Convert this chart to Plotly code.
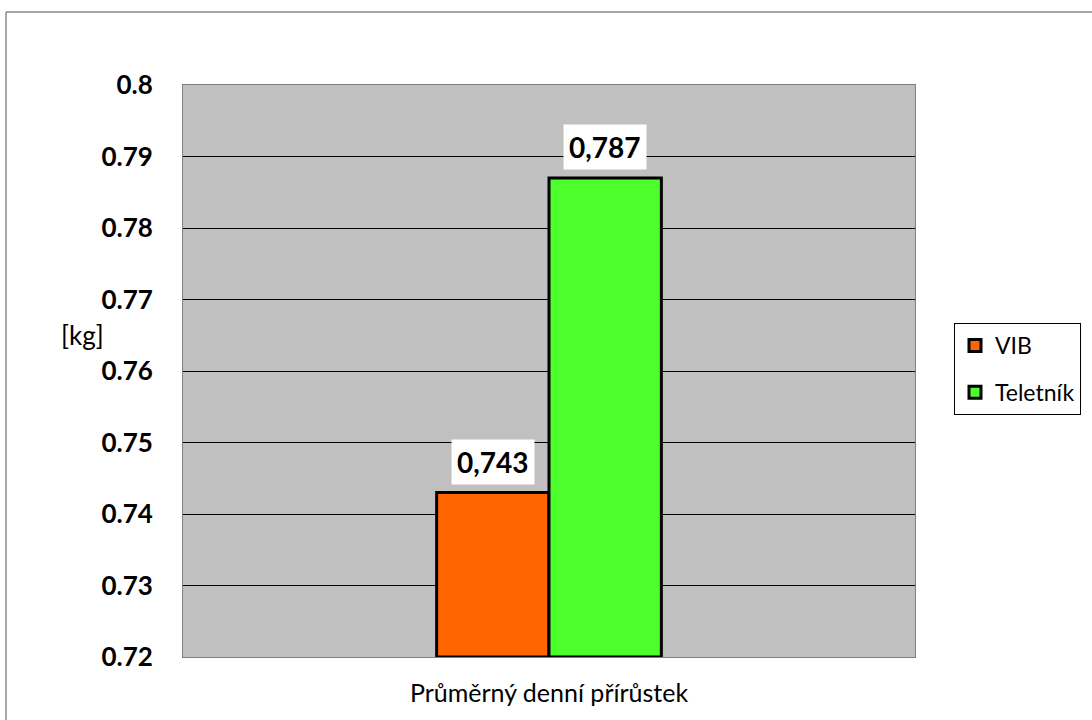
import plotly.graph_objects as go

categories = ["Průměrný denní přírůstek"]
series_names = ["VIB", "Teletník"]
values_vib = [0.743]
values_tel = [0.787]
label_vib = ["0,743"]
label_tel = ["0,787"]
colors = ["#FF6600", "#4CFF2C"]
y_ticks = [0.72, 0.73, 0.74, 0.75, 0.76, 0.77, 0.78, 0.79, 0.8]
y_ticktext = ["0.72", "0.73", "0.74", "0.75", "0.76", "0.77", "0.78", "0.79", "0.8"]

FONT = "Lato"
W, H = 1092, 720
L, R, T, B = 183, 177, 85, 63
pw, ph = W - L - R, H - T - B

fig = go.Figure()
for name, vals, col in [(series_names[0], values_vib, colors[0]),
                        (series_names[1], values_tel, colors[1])]:
    fig.add_trace(go.Bar(
        x=categories, y=[v - 0.72 for v in vals], base=0.72, name=name,
        legendgroup=name,
        marker=dict(color=col, line=dict(color="black", width=3)),
    ))

annotations = []
for vals, labs, shift in [(values_vib, label_vib, -56), (values_tel, label_tel, 56)]:
    for c, v, t in zip(categories, vals, labs):
        annotations.append(dict(
            x=c, y=v, xref="x", yref="y", text="<b>%s</b>" % t, showarrow=False,
            xshift=shift, yshift=8, yanchor="bottom", bgcolor="white",
            font=dict(family=FONT, size=28, color="black"), borderpad=5,
        ))

# y-axis title
annotations.append(dict(
    x=(59 - L) / pw, y=(H - B - 335) / ph, xref="paper", yref="paper",
    text="[kg]", showarrow=False, font=dict(family=FONT, size=26, color="black"),
))

shapes = [
    dict(type="line", xref="paper", yref="paper",
         x0=(6 - L) / pw, x1=(1110 - L) / pw, y0=(H - B - 12) / ph, y1=(H - B - 12) / ph,
         line=dict(color="#8a8a8a", width=1.5)),
    dict(type="line", xref="paper", yref="paper",
         x0=(6 - L) / pw, x1=(6 - L) / pw, y0=(H - B - 12) / ph, y1=(H - B - 740) / ph,
         line=dict(color="#8a8a8a", width=1.5)),
]

fig.update_layout(
    width=W, height=H,
    margin=dict(l=L, r=R, t=T, b=B, autoexpand=False),
    paper_bgcolor="white", plot_bgcolor="#C0C0C0",
    barmode="group", bargap=0.693, bargroupgap=0,
    font=dict(family=FONT, color="black"),
    annotations=annotations, shapes=shapes,
    legend=dict(
        xref="container", yref="container",
        x=954 / W, y=1 - 323 / H, xanchor="left", yanchor="top",
        bordercolor="black", borderwidth=1, bgcolor="white",
        font=dict(family=FONT, size=23, color="black"),
        itemwidth=30, tracegroupgap=14,
    ),
    showlegend=True,
)
fig.update_xaxes(
    showgrid=False, showline=True, linecolor="#808080", linewidth=1, mirror=True,
    tickfont=dict(family=FONT, size=25, color="black"), ticks="", ticklabelstandoff=14,
)
fig.update_yaxes(
    range=[0.72, 0.8], tickvals=y_ticks, ticktext=y_ticktext,
    showgrid=True, gridcolor="black", gridwidth=1,
    showline=True, linecolor="#808080", linewidth=1, mirror=True,
    tickfont=dict(family=FONT, size=26, color="black", weight="bold"),
    ticks="", ticklabelstandoff=24, zeroline=False,
)

fig.write_html("out.html")
